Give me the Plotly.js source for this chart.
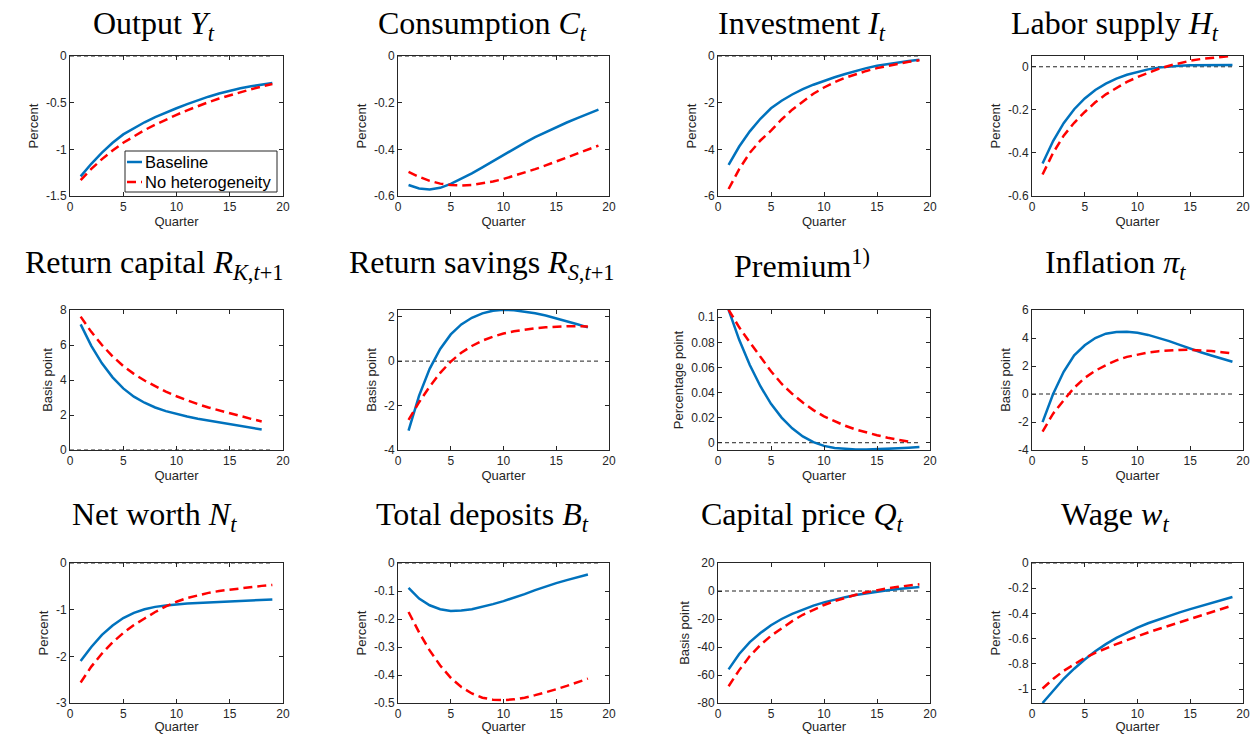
<!DOCTYPE html>
<html>
<head>
<meta charset="utf-8">
<script src="https://cdn.plot.ly/plotly-3.0.1.min.js"></script>
<style>html,body{margin:0;padding:0;background:#fff;}#chart{width:1250px;height:734px;}</style>
</head>
<body>
<div id="chart"></div>
<script>
// ---------- data ----------
const quarters = [1,2,3,4,5,6,7,8,9,10,11,12,13,14,15,16,17,18,19];

const outputBase  = [-1.29,-1.155,-1.035,-0.93,-0.84,-0.772,-0.71,-0.655,-0.605,-0.56,-0.515,-0.474,-0.436,-0.401,-0.37,-0.346,-0.325,-0.306,-0.29];
const outputNoHet = [-1.33,-1.21,-1.105,-1.012,-0.93,-0.859,-0.794,-0.736,-0.681,-0.63,-0.582,-0.537,-0.495,-0.456,-0.42,-0.387,-0.356,-0.327,-0.30];

const consBase  = [-0.553,-0.568,-0.572,-0.565,-0.548,-0.527,-0.503,-0.477,-0.450,-0.423,-0.397,-0.372,-0.348,-0.326,-0.305,-0.285,-0.266,-0.248,-0.230];
const consNoHet = [-0.497,-0.518,-0.535,-0.547,-0.553,-0.555,-0.553,-0.547,-0.538,-0.527,-0.514,-0.500,-0.485,-0.469,-0.452,-0.435,-0.418,-0.401,-0.384];

const invBase  = [-4.67,-3.88,-3.23,-2.69,-2.24,-1.92,-1.65,-1.42,-1.23,-1.06,-0.91,-0.77,-0.64,-0.52,-0.42,-0.34,-0.27,-0.21,-0.16];
const invNoHet = [-5.70,-4.85,-4.15,-3.62,-3.20,-2.72,-2.30,-1.95,-1.62,-1.35,-1.12,-0.93,-0.77,-0.64,-0.52,-0.42,-0.33,-0.25,-0.18];

const laborBase  = [-0.449,-0.345,-0.262,-0.197,-0.147,-0.108,-0.078,-0.055,-0.037,-0.023,-0.012,-0.004,0.002,0.005,0.007,0.008,0.008,0.008,0.008];
const laborNoHet = [-0.500,-0.400,-0.320,-0.260,-0.210,-0.165,-0.128,-0.097,-0.070,-0.048,-0.028,-0.010,0.005,0.018,0.028,0.036,0.042,0.047,0.051];

const rkBase  = [7.18,5.95,4.95,4.15,3.52,3.05,2.70,2.43,2.22,2.05,1.91,1.79,1.68,1.57,1.47,1.37,1.27,1.17];
const rkNoHet = [7.62,6.75,6.00,5.35,4.80,4.35,3.97,3.63,3.33,3.07,2.83,2.62,2.43,2.26,2.10,1.94,1.78,1.63];

const rsBase  = [-3.13,-1.55,-0.35,0.55,1.20,1.65,1.95,2.15,2.27,2.31,2.29,2.23,2.15,2.05,1.93,1.80,1.66,1.52];
const rsNoHet = [-2.64,-1.85,-1.15,-0.53,-0.02,0.38,0.68,0.92,1.10,1.24,1.34,1.42,1.48,1.52,1.55,1.57,1.57,1.56];

const premBase  = [0.106,0.082,0.062,0.045,0.031,0.020,0.0115,0.005,0.0005,-0.0025,-0.0042,-0.0050,-0.0054,-0.0055,-0.0053,-0.0050,-0.0045,-0.0040,-0.0034];
const premNoHet = [0.106,0.092,0.080,0.068,0.057,0.047,0.039,0.032,0.026,0.021,0.017,0.0135,0.0105,0.008,0.006,0.004,0.0025,0.0008];

const inflBase  = [-2.01,0.00,1.59,2.77,3.48,4.00,4.31,4.43,4.45,4.38,4.22,4.02,3.78,3.51,3.23,2.98,2.75,2.52,2.30];
const inflNoHet = [-2.68,-1.40,-0.45,0.45,1.15,1.66,2.06,2.40,2.65,2.83,2.96,3.06,3.12,3.15,3.16,3.13,3.07,2.99,2.89];

const nwBase  = [-2.10,-1.80,-1.54,-1.34,-1.18,-1.07,-0.99,-0.94,-0.91,-0.885,-0.870,-0.857,-0.847,-0.838,-0.830,-0.817,-0.804,-0.792,-0.780];
const nwNoHet = [-2.56,-2.22,-1.94,-1.70,-1.50,-1.33,-1.19,-1.05,-0.93,-0.83,-0.75,-0.69,-0.64,-0.60,-0.57,-0.54,-0.51,-0.49,-0.47];

const depBase  = [-0.089,-0.127,-0.151,-0.165,-0.171,-0.170,-0.165,-0.157,-0.147,-0.136,-0.124,-0.111,-0.097,-0.084,-0.072,-0.061,-0.050,-0.041];
const depNoHet = [-0.175,-0.248,-0.312,-0.366,-0.410,-0.443,-0.466,-0.481,-0.488,-0.490,-0.487,-0.481,-0.472,-0.462,-0.451,-0.439,-0.426,-0.413];

const qBase  = [-56,-45,-36.5,-30,-24.5,-20,-16.3,-13.1,-10.4,-8.1,-6.1,-4.4,-2.9,-1.6,-0.5,0.5,1.4,2.2,2.9];
const qNoHet = [-68,-56.5,-46.5,-38.5,-32,-26.5,-21.5,-17,-13.3,-10,-7.2,-4.8,-2.7,-0.9,0.6,1.9,3.0,4.0,4.8];

const wageBase  = [-1.11,-1.01,-0.918,-0.838,-0.765,-0.700,-0.643,-0.594,-0.551,-0.513,-0.478,-0.447,-0.418,-0.391,-0.366,-0.343,-0.321,-0.295,-0.270];
const wageNoHet = [-0.995,-0.920,-0.855,-0.800,-0.752,-0.712,-0.676,-0.643,-0.612,-0.580,-0.551,-0.523,-0.496,-0.470,-0.444,-0.418,-0.390,-0.362,-0.337];

const seriesNames = ['Baseline', 'No heterogeneity'];

const panelTitles = [
  'Output <i>Y<sub>t</sub></i>',
  'Consumption <i>C<sub>t</sub></i>',
  'Investment <i>I<sub>t</sub></i>',
  'Labor supply <i>H<sub>t</sub></i>',
  'Return capital <i>R</i><sub><i>K</i>,<i>t</i>+1</sub>',
  'Return savings <i>R</i><sub><i>S</i>,<i>t</i>+1</sub>',
  'Premium<sup>1)</sup>',
  'Inflation <i>π<sub>t</sub></i>',
  'Net worth <i>N<sub>t</sub></i>',
  'Total deposits <i>B<sub>t</sub></i>',
  'Capital price <i>Q<sub>t</sub></i>',
  'Wage <i>w<sub>t</sub></i>'
];
const yLabels = ['Percent','Percent','Percent','Percent','Basis point','Basis point','Percentage point','Basis point','Percent','Percent','Basis point','Percent'];
const xLabel = 'Quarter';
const xTicks = [0,5,10,15,20];
const yTicks = [
  [-1.5,-1,-0.5,0],
  [-0.6,-0.4,-0.2,0],
  [-6,-4,-2,0],
  [-0.6,-0.4,-0.2,0],
  [0,2,4,6,8],
  [-4,-2,0,2],
  [0,0.02,0.04,0.06,0.08,0.1],
  [-4,-2,0,2,4,6],
  [-3,-2,-1,0],
  [-0.5,-0.4,-0.3,-0.2,-0.1,0],
  [-80,-60,-40,-20,0,20],
  [-1,-0.8,-0.6,-0.4,-0.2,0]
];
const baseSeries  = [outputBase, consBase, invBase, laborBase, rkBase, rsBase, premBase, inflBase, nwBase, depBase, qBase, wageBase];
const noHetSeries = [outputNoHet, consNoHet, invNoHet, laborNoHet, rkNoHet, rsNoHet, premNoHet, inflNoHet, nwNoHet, depNoHet, qNoHet, wageNoHet];

// ---------- layout (positions / styles) ----------
const W = 1250, H = 734;
const yRanges = [[-1.5,0],[-0.6,0],[-6,0],[-0.6,0.05],[0,8],[-4,2.3],[-0.0058,0.1058],[-4,6],[-3,0],[-0.5,0],[-80,20],[-1.11,0]];
const colPx = [[70,283],[398,609],[718,930],[1032,1243]];
const rowPx = [[56,196],[310,450],[563,703]];
const titleCx = [154,482,802,1115];
const titleCy = [26,264,516];

const axisColor = '#262626';
const tickFont = {family: 'Liberation Sans, Arial, sans-serif', size: 12, color: axisColor};
const labelFont = {family: 'Liberation Sans, Arial, sans-serif', size: 13, color: axisColor};
const blue = '#0072BD', red = '#FF0000';

const data = [];
const layout = {
  width: W, height: H,
  margin: {l:0, r:0, t:0, b:0},
  paper_bgcolor: '#fff', plot_bgcolor: '#fff',
  showlegend: false,
  hovermode: false,
  annotations: [],
  shapes: []
};

const zeroX = [0, quarters[quarters.length-1]];

for (let i = 0; i < 12; i++) {
  const r = Math.floor(i/4), c = i % 4;
  const sfx = i === 0 ? '' : String(i+1);
  const xa = 'x' + sfx, ya = 'y' + sfx;

  // zero reference line
  data.push({x: zeroX, y: zeroX.map(() => 0), xaxis: xa, yaxis: ya, mode: 'lines',
    line: {color: '#222', width: 1, dash: '4px,3px'}, hoverinfo: 'skip'});
  const b = baseSeries[i], n = noHetSeries[i];
  data.push({x: quarters.slice(0, b.length), y: b, xaxis: xa, yaxis: ya, mode: 'lines', name: seriesNames[0],
    line: {color: blue, width: 2.5}});
  data.push({x: quarters.slice(0, n.length), y: n, xaxis: xa, yaxis: ya, mode: 'lines', name: seriesNames[1],
    line: {color: red, width: 2.5, dash: '9px,5px'}});

  layout['xaxis' + sfx] = {
    domain: [colPx[c][0]/W, colPx[c][1]/W], anchor: ya,
    range: [0, 20], tickvals: xTicks, ticktext: xTicks.map(String),
    ticks: 'inside', ticklen: 4, tickcolor: axisColor, tickwidth: 1,
    showline: true, mirror: 'ticks', linecolor: axisColor, linewidth: 1,
    showgrid: false, zeroline: false, tickfont: tickFont,
    title: {text: xLabel, font: labelFont, standoff: 2}
  };
  layout['yaxis' + sfx] = {
    domain: [1 - rowPx[r][1]/H, 1 - rowPx[r][0]/H], anchor: xa,
    range: yRanges[i], tickvals: yTicks[i], ticktext: yTicks[i].map(String),
    ticks: 'inside', ticklen: 4, tickcolor: axisColor, tickwidth: 1,
    showline: true, mirror: 'ticks', linecolor: axisColor, linewidth: 1,
    showgrid: false, zeroline: false, tickfont: tickFont,
    title: {text: yLabels[i], font: labelFont, standoff: 4}
  };
  layout.annotations.push({
    text: panelTitles[i], xref: 'paper', yref: 'paper',
    x: titleCx[c]/W, y: 1 - titleCy[r]/H, xanchor: 'center', yanchor: 'middle',
    showarrow: false, font: {family: 'Liberation Serif, Times New Roman, serif', size: 32, color: '#000'}
  });
}

// legend box in first panel (drawn like the MATLAB legend)
const lg = {x0: 125, x1: 277, y0: 151, y1: 192};
layout.shapes.push({type: 'rect', xref: 'paper', yref: 'paper', layer: 'above',
  x0: lg.x0/W, x1: lg.x1/W, y0: 1 - lg.y1/H, y1: 1 - lg.y0/H,
  line: {color: axisColor, width: 1}, fillcolor: '#fff'});
const legRows = [162, 182];
const legColors = [blue, red];
const legDash = ['solid', '9px,5px'];
for (let k = 0; k < 2; k++) {
  layout.shapes.push({type: 'line', xref: 'paper', yref: 'paper', layer: 'above',
    x0: 127/W, x1: 142/W, y0: 1 - legRows[k]/H, y1: 1 - legRows[k]/H,
    line: {color: legColors[k], width: 2.5, dash: legDash[k]}});
  layout.annotations.push({text: seriesNames[k], xref: 'paper', yref: 'paper',
    x: 143/W, y: 1 - legRows[k]/H, xanchor: 'left', yanchor: 'middle', showarrow: false,
    font: {family: 'Liberation Sans, Arial, sans-serif', size: 16.5, color: '#000'}});
}

Plotly.newPlot('chart', data, layout, {staticPlot: true, displayModeBar: false});
</script>
</body>
</html>
